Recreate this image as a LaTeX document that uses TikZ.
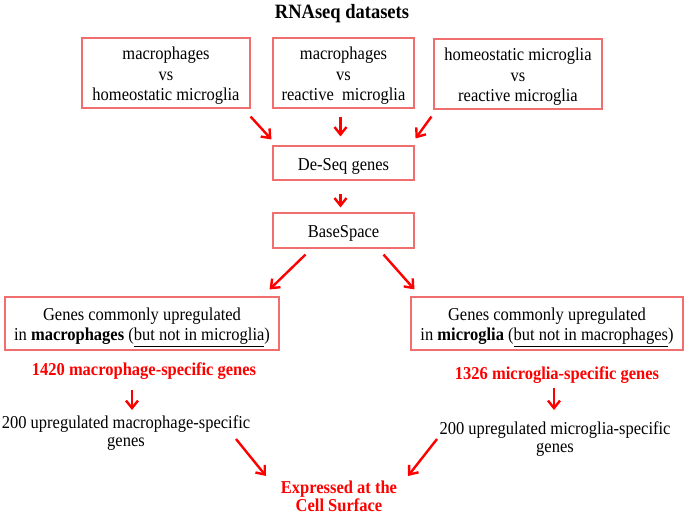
\documentclass[tikz,border=0pt]{standalone}
\usepackage{fontspec}
\usepackage{graphicx}
\setmainfont{Liberation Serif}
\usetikzlibrary{arrows.meta,calc}
\definecolor{boxred}{RGB}{240,110,110}
\definecolor{arred}{RGB}{255,0,0}
\newcommand{\lowr}[1]{\raisebox{-3pt}[\height][\depth]{#1}}
\newcommand{\txbox}[1]{\lowr{\scalebox{1}[1.1]{\fontsize{16.5}{18.2}\selectfont\begin{tabular}{@{}c@{}}#1\end{tabular}}}}
\newcommand{\txfree}[1]{\lowr{\scalebox{1}[1.1]{\fontsize{16.5}{16.4}\selectfont\begin{tabular}{@{}c@{}}#1\end{tabular}}}}
\newcommand{\txred}[1]{\lowr{\scalebox{1}[1.1]{\fontsize{16.5}{16.4}\selectfont\bfseries\begin{tabular}{@{}c@{}}#1\end{tabular}}}}
\begin{document}
\begin{tikzpicture}[x=1pt,y=-1pt,
  every node/.style={inner sep=0pt, align=center},
  rbox/.style={draw=boxred, line width=1.1pt, minimum width=#1, anchor=center},
  arr/.style={draw=arred, line width=2.4pt, -{Straight Barb[length=7.5pt,width=12pt]}},
  redtxt/.style={text=arred}]
\useasboundingbox (0,0) rectangle (685,517);
\node (title) at (342,11) {\lowr{\scalebox{1}[1.1]{\fontsize{18.5}{22}\selectfont\bfseries RNAseq datasets}}};
\node[rbox=168pt, minimum height=70pt] (b1) at (166,73) {\txbox{macrophages\\vs\\homeostatic microglia}};
\node[rbox=141pt, minimum height=70pt] (b2) at (343.5,73) {\txbox{macrophages\\vs\\reactive\ \ microglia}};
\node[rbox=168pt, minimum height=70pt] (b3) at (518,74) {\txbox{homeostatic microglia\\vs\\reactive microglia}};
\node[rbox=141pt, minimum height=34pt] (ds) at (343.5,163) {\txbox{De-Seq genes}};
\node[rbox=141pt, minimum height=35pt] (bs) at (343.5,230.5) {\txbox{BaseSpace}};
\node[rbox=274pt, minimum height=53pt] (L) at (142,323.5) {\txbox{Genes commonly upregulated\\in \textbf{macrophages} (\underline{but not in microglia})}};
\node[rbox=272pt, minimum height=53pt] (R) at (547,323.5) {\txbox{Genes commonly upregulated\\in \textbf{microglia} (\underline{but not in macrophages})}};
\node[redtxt] (t1420) at (144,369) {\txred{1420 macrophage-specific genes}};
\node[redtxt] (t1326) at (557,373) {\txred{1326 microglia-specific genes}};
\node (t200L) at (126,431) {\txfree{200 upregulated macrophage-specific\\genes}};
\node (t200R) at (555,437) {\txfree{200 upregulated microglia-specific\\genes}};
\node[redtxt] (exp) at (339,496) {\txred{Expressed at the\\Cell Surface}};
\draw[arr] ($(b1.south east)+(0,8)$) -- ($(ds.north west)+(-1,-6)$);
\draw[arr] ($(b2.south)+(-3,8)$) -- ($(ds.north)+(-3,-9)$);
\draw[arr] ($(b3.south west)+(-2,7)$) -- ($(ds.north east)+(1,-7)$);
\draw[arr] ($(ds.south)+(-3,13)$) -- ($(bs.north)+(-3,-5)$);
\draw[arr] ($(bs.south)+(-38,6)$) -- ($(L.north east)+(-10,-7)$);
\draw[arr] ($(bs.south)+(40,6)$) -- ($(R.north west)+(4,-7)$);
\draw[arr] ($(t1420)+(-12,21)$) -- ($(t200L)+(6,-21)$);
\draw[arr] ($(t1326)+(-3,15)$) -- ($(t200R)+(-1,-27)$);
\draw[arr] ($(t200L)+(110,8)$) -- ($(exp)+(-73,-20)$);
\draw[arr] ($(t200R)+(-118,2)$) -- ($(exp)+(69,-20)$);
\end{tikzpicture}
\end{document}
